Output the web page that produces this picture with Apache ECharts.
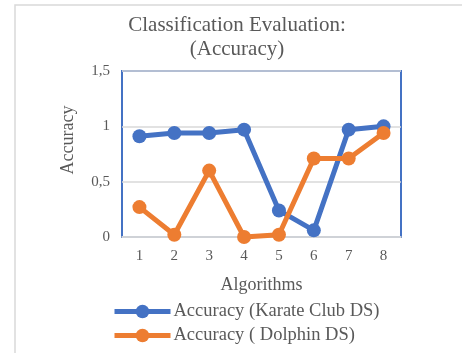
<!DOCTYPE html>
<html>
<head>
<meta charset="utf-8">
<script src="https://cdn.jsdelivr.net/npm/echarts@6/dist/echarts.min.js"></script>
<style>
html,body{margin:0;padding:0;background:#fff;}
#chart{width:462px;height:353px;}
</style>
</head>
<body>
<div id="chart"></div>
<script>
// Classification accuracy per algorithm for two datasets
const algorithms = ['1', '2', '3', '4', '5', '6', '7', '8'];
const karateClub = [0.91, 0.94, 0.94, 0.97, 0.24, 0.06, 0.97, 1.0];
const dolphin = [0.27, 0.02, 0.6, 0.0, 0.02, 0.71, 0.71, 0.94];
const yTicks = [0, 0.5, 1, 1.5];

const serif = '"Liberation Serif", "DejaVu Serif", serif';
const textGray = '#595959';

const chart = echarts.init(document.getElementById('chart'));

function lineSeries(name, data, color) {
  return {
    name: name,
    type: 'line',
    data: data,
    symbol: 'circle',
    symbolSize: 14,
    lineStyle: { width: 5, color: color },
    itemStyle: { color: color },
    emphasis: { disabled: true }
  };
}

chart.setOption({
  animation: false,
  graphic: [{
    type: 'rect',
    shape: { x: 15, y: 5, width: 470, height: 370 },
    style: { fill: 'none', stroke: '#D9D9D9', lineWidth: 1.5 },
    silent: true
  }, {
    // vertical axis title
    type: 'text',
    x: 68,
    y: 140,
    rotation: Math.PI / 2,
    style: {
      text: 'Accuracy',
      fontFamily: serif,
      fontSize: 18,
      fill: textGray,
      align: 'center',
      verticalAlign: 'middle'
    },
    silent: true
  }],
  title: {
    text: 'Classification Evaluation:\n(Accuracy)',
    left: 232,
    top: 8,
    textAlign: 'center',
    textStyle: {
      fontFamily: serif,
      fontSize: 21,
      fontWeight: 'normal',
      color: textGray,
      lineHeight: 24
    }
  },
  grid: {
    left: 122,
    right: 61,
    top: 71,
    bottom: 116,
    show: true,
    borderColor: '#4472C4',
    borderWidth: 2,
    backgroundColor: 'transparent'
  },
  legend: {
    orient: 'vertical',
    left: 107,
    top: 297,
    itemWidth: 56,
    itemHeight: 17,
    itemGap: 5,
    lineStyle: { width: 5 },
    textStyle: { fontFamily: serif, fontSize: 18.5, color: textGray, padding: [0, 0, 0, -2] },
    data: ['Accuracy (Karate Club DS)', 'Accuracy ( Dolphin DS)']
  },
  xAxis: {
    type: 'category',
    data: algorithms,
    boundaryGap: true,
    name: 'Algorithms',
    nameLocation: 'middle',
    nameGap: 39,
    nameTextStyle: { fontFamily: serif, fontSize: 18, color: textGray },
    axisLine: { lineStyle: { color: '#D9D9D9', width: 1.5 } },
    axisTick: { show: false },
    axisLabel: { fontFamily: serif, fontSize: 15, color: textGray, margin: 12 }
  },
  yAxis: {
    type: 'value',
    min: yTicks[0],
    max: yTicks[yTicks.length - 1],
    interval: 0.5,
    axisLine: { show: false },
    axisTick: { show: false },
    splitLine: { lineStyle: { color: '#D9D9D9', width: 1.5 } },
    axisLabel: {
      fontFamily: serif,
      fontSize: 15,
      color: textGray,
      margin: 12,
      formatter: v => String(v).replace('.', ',')
    }
  },
  series: [
    lineSeries('Accuracy (Karate Club DS)', karateClub, '#4472C4'),
    lineSeries('Accuracy ( Dolphin DS)', dolphin, '#ED7D31')
  ]
});
</script>
</body>
</html>
